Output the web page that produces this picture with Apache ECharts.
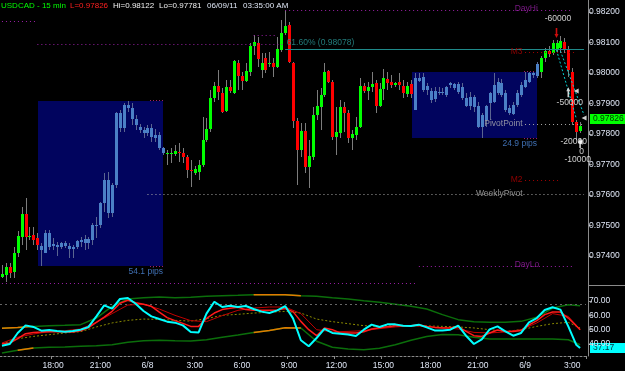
<!DOCTYPE html>
<html><head><meta charset="utf-8">
<script src="https://cdn.jsdelivr.net/npm/echarts@6/dist/echarts.min.js"></script>
<style>html,body{margin:0;padding:0;background:#000;}#c{width:625px;height:371px;}</style>
</head><body><div id="c"></div>
<script>
// ---------------- data ----------------
const tickLabels = ['18:00','21:00','6/8','3:00','6:00','9:00','12:00','15:00','18:00','21:00','6/9','3:00'];
const firstBarMinutes = 14 * 60 + 45;   // 6/7 14:45, 15-minute bars
const firstDay = 7;
const barCount = 148;

const open = [0.97331,0.97337,0.97363,0.97347,0.97409,0.97462,0.97537,0.97462,0.97468,0.97458,
0.97432,0.97409,0.97475,0.97432,0.97435,0.97429,0.97442,0.97432,0.97429,0.97429,
0.97445,0.97455,0.97442,0.97452,0.97501,0.97501,0.97573,0.97649,0.97540,0.97632,
0.97868,0.97819,0.97895,0.97885,0.97849,0.97822,0.97813,0.97803,0.97819,0.97796,
0.97796,0.97754,0.97734,0.97734,0.97734,0.97740,0.97737,0.97724,0.97681,0.97672,
0.97675,0.97698,0.97780,0.97816,0.97918,0.97957,0.97934,0.97875,0.97954,0.97934,
0.98032,0.97990,0.97973,0.98003,0.98088,0.98098,0.98009,0.98049,0.98029,0.98032,
0.98019,0.98075,0.98131,0.98157,0.98032,0.97842,0.97747,0.97809,0.97691,0.97724,
0.97862,0.97888,0.97927,0.98006,0.97970,0.97790,0.97803,0.97888,0.97868,0.97786,
0.97796,0.97822,0.97957,0.97941,0.97954,0.97967,0.97891,0.97947,0.97980,0.97970,
0.97960,0.97970,0.97957,0.97931,0.97963,0.97878,0.97983,0.97986,0.97957,0.97941,
0.97914,0.97937,0.97934,0.97927,0.97960,0.97963,0.97963,0.97954,0.97918,0.97891,
0.97921,0.97891,0.97822,0.97845,0.97901,0.97904,0.97934,0.97967,0.97934,0.97885,
0.97865,0.97895,0.97927,0.97954,0.97970,0.98000,0.97990,0.98003,0.98049,0.98072,
0.98065,0.98075,0.98082,0.98101,0.98075,0.98003,0.97839,0.97809];
const close = [0.97340,0.97363,0.97344,0.97409,0.97465,0.97537,0.97462,0.97465,0.97452,0.97435,
0.97419,0.97475,0.97429,0.97439,0.97429,0.97442,0.97432,0.97422,0.97422,0.97449,
0.97452,0.97442,0.97455,0.97501,0.97498,0.97573,0.97649,0.97540,0.97632,0.97868,
0.97819,0.97895,0.97885,0.97849,0.97829,0.97813,0.97803,0.97819,0.97790,0.97786,
0.97754,0.97737,0.97737,0.97737,0.97744,0.97737,0.97724,0.97681,0.97678,0.97685,
0.97698,0.97780,0.97816,0.97918,0.97957,0.97937,0.97872,0.97954,0.97941,0.98039,
0.97990,0.97973,0.98006,0.98088,0.98101,0.98045,0.98032,0.98009,0.98032,0.98019,
0.98078,0.98131,0.98154,0.98036,0.97842,0.97747,0.97809,0.97691,0.97727,0.97862,
0.97891,0.97927,0.98003,0.97970,0.97790,0.97806,0.97888,0.97868,0.97786,0.97799,
0.97822,0.97957,0.97941,0.97954,0.97963,0.97891,0.97947,0.97983,0.97967,0.97960,
0.97967,0.97960,0.97934,0.97957,0.97931,0.97983,0.97973,0.97944,0.97944,0.97911,
0.97941,0.97934,0.97937,0.97954,0.97967,0.97950,0.97937,0.97918,0.97891,0.97921,
0.97888,0.97822,0.97862,0.97891,0.97934,0.97960,0.97970,0.97927,0.97878,0.97868,
0.97895,0.97934,0.97960,0.97977,0.98000,0.97993,0.98029,0.98049,0.98072,0.98062,
0.98098,0.98098,0.98104,0.98075,0.98009,0.97839,0.97806,0.97826];
const low = [0.97327,0.97314,0.97327,0.97327,0.97396,0.97435,0.97419,0.97452,0.97435,0.97419,
0.97367,0.97409,0.97419,0.97419,0.97399,0.97422,0.97426,0.97393,0.97393,0.97422,
0.97429,0.97419,0.97422,0.97435,0.97458,0.97491,0.97544,0.97524,0.97527,0.97622,
0.97806,0.97806,0.97872,0.97829,0.97813,0.97803,0.97786,0.97793,0.97773,0.97773,
0.97747,0.97731,0.97698,0.97704,0.97727,0.97708,0.97704,0.97655,0.97626,0.97665,
0.97649,0.97691,0.97773,0.97806,0.97904,0.97911,0.97868,0.97872,0.97934,0.97931,
0.97944,0.97944,0.97970,0.97990,0.98059,0.98019,0.97983,0.98000,0.98019,0.97986,
0.98016,0.98068,0.98124,0.98032,0.97819,0.97632,0.97724,0.97672,0.97622,0.97714,
0.97845,0.97813,0.97921,0.97967,0.97780,0.97731,0.97786,0.97806,0.97770,0.97747,
0.97780,0.97819,0.97934,0.97911,0.97937,0.97868,0.97888,0.97911,0.97944,0.97950,
0.97954,0.97944,0.97918,0.97921,0.97918,0.97878,0.97970,0.97937,0.97927,0.97901,
0.97904,0.97927,0.97927,0.97921,0.97950,0.97944,0.97931,0.97911,0.97888,0.97878,
0.97872,0.97819,0.97786,0.97822,0.97845,0.97901,0.97927,0.97921,0.97872,0.97862,
0.97862,0.97888,0.97921,0.97950,0.97967,0.97983,0.97983,0.97983,0.98036,0.98052,
0.98059,0.98065,0.98065,0.98065,0.97986,0.97829,0.97781,0.97803];
const high = [0.97370,0.97376,0.97376,0.97429,0.97481,0.97560,0.97590,0.97494,0.97494,0.97475,
0.97442,0.97485,0.97485,0.97458,0.97445,0.97445,0.97449,0.97442,0.97435,0.97452,
0.97462,0.97468,0.97462,0.97508,0.97527,0.97576,0.97672,0.97675,0.97639,0.97872,
0.97878,0.97901,0.97908,0.97901,0.97862,0.97832,0.97822,0.97829,0.97832,0.97816,
0.97806,0.97757,0.97747,0.97754,0.97763,0.97770,0.97754,0.97731,0.97714,0.97694,
0.97714,0.97855,0.97852,0.97944,0.97970,0.98009,0.97950,0.97977,0.97977,0.98042,
0.98042,0.98003,0.98032,0.98098,0.98124,0.98118,0.98065,0.98065,0.98068,0.98049,
0.98118,0.98173,0.98206,0.98167,0.98036,0.97852,0.97836,0.97836,0.97780,0.97888,
0.97944,0.97950,0.98032,0.98009,0.97977,0.97888,0.97911,0.97904,0.97878,0.97813,
0.97855,0.97983,0.97967,0.97970,0.98003,0.97977,0.97967,0.98013,0.98003,0.97993,
0.97970,0.98000,0.97977,0.97970,0.97977,0.98000,0.98000,0.98000,0.97967,0.97950,
0.97954,0.97954,0.97950,0.97957,0.97970,0.97967,0.97970,0.97967,0.97934,0.97937,
0.97927,0.97904,0.97868,0.97895,0.97937,0.98000,0.97983,0.97980,0.97944,0.97895,
0.97904,0.97944,0.97970,0.98003,0.98003,0.98003,0.98036,0.98055,0.98082,0.98088,
0.98108,0.98108,0.98122,0.98114,0.98088,0.98016,0.97845,0.97839];

// session boxes (first / last bar inside, price top / bottom, label)
const boxFirstBar = [10, 105];
const boxLastBar = [41, 136];
const boxTop = [0.97908, 0.98003];
const boxBottom = [0.97367, 0.97786];
const boxLabel = ['54.1 pips', '24.9 pips'];

// horizontal levels
const levelPrice = [0.98206, 0.98170, 0.98095, 0.98124, 0.98078, 0.98068, 0.97832, 0.97649, 0.97603, 0.97367, 0.97311];
const levelFrom  = [72, 0, 9, 64, 72, 133, 133, 133, 37, 106, 0];
const levelTo    = [145, 9, 72, 70, 148, 146, 148, 142, 148, 145, 105];
const levelKind  = ['day','day','day','day','fib','murrey','pivot','murrey','pivot','day','day'];

// text notes on the price panel
const noteText  = ['DayHi','61.60% (0.98078)','M3','PivotPoint','M2','WeeklyPivot','DayLo','-60000','-50000','-20000','0','-10000'];
const noteBar   = [131, 72, 133, 133, 133, 133, 131, 141, 144, 145, 147, 146];
const notePrice = [0.98206, 0.98078, 0.98068, 0.97832, 0.97649, 0.97603, 0.97367, 0.98177, 0.97901, 0.97773, 0.97740, 0.97714];
const noteKind  = ['day','fib','murrey','pivot','murrey','pivot','day','order','order','order','order','order'];

// trade signals
const signalBar   = [141, 144, 147, 146, 148, 147];
const signalPrice = [0.98131, 0.97937, 0.97770, 0.97941, 0.97852, 0.97773];
const signalKind  = ['sell','buy','buy','flag','flag','flag'];
// dotted trend lines [fromBar, fromPrice, toBar, toPrice]
const trendFromBar = [141, 142];
const trendFromPrice = [0.98075, 0.98072];
const trendToBar = [146, 148];
const trendToPrice = [0.97852, 0.97862];

// oscillator panel (fast lines every 2 bars, slow lines every 4 bars, last value at final bar)
const oscCyan = [38.8,40.0,47.7,53.0,51.9,49.3,49.8,49.1,48.6,49.1,50.0,51.9,59.3,67.0,64.7,71.4,72.1,68.1,63.0,59.3,
57.4,55.6,54.9,53.0,48.4,48.1,61.2,69.5,65.8,66.7,65.8,66.5,64.4,62.6,61.6,63.5,66.5,57.9,42.6,38.4,
44.2,50.5,47.7,47.2,46.7,45.6,50.0,53.5,51.9,53.7,53.7,52.8,52.6,53.5,51.6,49.5,49.5,50.0,52.8,45.8,
40.0,43.3,50.2,52.3,48.8,45.8,47.7,55.1,58.1,63.7,65.6,64.0,52.3,39.5,37.17];
const oscRed = [40.2,40.7,43.7,47.2,48.1,48.4,48.8,48.6,48.4,48.4,49.3,51.4,55.1,58.8,62.8,68.4,70.5,68.8,67.7,66.3,
62.3,58.4,56.3,54.4,52.3,52.3,57.9,61.6,64.0,64.9,65.6,64.0,63.5,63.5,63.5,63.7,64.7,62.6,55.8,50.0,
45.8,51.2,50.0,47.7,47.7,47.7,48.6,50.5,51.4,52.1,52.8,52.8,52.8,53.5,52.3,51.6,51.2,51.4,52.1,48.8,
45.8,45.3,47.7,49.8,48.8,48.8,49.5,53.3,56.3,60.5,62.3,62.3,58.1,52.8,50.0];
const oscDarkRed = [40.7,44.7,47.0,48.6,49.3,50.5,55.1,61.2,67.2,67.7,64.4,60.0,56.3,55.6,59.8,63.5,65.1,65.8,65.8,61.2,
50.0,48.5,48.8,49.3,50.7,51.9,52.8,52.3,51.4,50.5,48.1,47.7,48.4,50.0,54.7,61.2,59.3,50.0];
const oscOlive = [40.2,43.7,45.3,46.5,47.7,48.6,51.9,54.7,56.5,57.4,57.2,56.5,56.0,57.7,60.0,60.7,61.6,62.1,62.8,61.6,
57.4,55.6,54.2,52.8,52.3,52.8,52.8,52.6,52.3,51.9,51.2,50.0,48.8,50.0,52.3,54.2,55.1,51.2];
const oscUpper = [51.0,51.5,52.3,52.8,53.0,53.5,58.1,66.3,71.4,72.3,72.8,72.3,72.6,73.3,73.7,74.0,74.4,74.4,74.4,73.7,
73.3,72.3,71.4,70.2,69.1,67.7,66.3,64.4,60.5,57.0,55.6,55.1,55.1,55.8,58.6,65.1,67.4,66.7];
const oscLower = [33.7,35.6,37.2,37.7,37.9,38.4,38.8,39.5,41.2,42.3,42.6,42.3,42.1,43.0,44.7,46.3,48.1,49.5,51.4,51.2,
41.9,37.7,36.5,36.0,37.0,39.5,42.6,45.3,46.7,46.5,44.7,43.5,43.5,43.5,43.5,43.5,43.0,39.5];
const upperOrangeRanges = [[0, 8], [64, 76]];
const lowerOrangeRanges = [[4, 8], [64, 76]];
const oscLevel = 68;

const priceTicks = [0.982, 0.981, 0.980, 0.979, 0.978, 0.977, 0.976, 0.975, 0.974];
const oscTicks = [70, 60, 50, 40];

// ---------------- build ----------------
const FONT = '"Liberation Sans", Arial, sans-serif';
const lastBar = barCount - 1;
const cats = [];
for (let k = 0; k < barCount + 1; k++) {
  const t = firstBarMinutes + 15 * k;
  const day = firstDay + Math.floor(t / 1440);
  const m = t % 1440;
  const hh = Math.floor(m / 60), mm = m % 60;
  cats.push(m === 0 ? ('6/' + day) : (hh + ':' + (mm < 10 ? '0' : '') + mm));
}
// match the tick labels in order along the bars
const tickBars = {};
(function () {
  let p = 0;
  for (let k = 0; k <= lastBar && p < tickLabels.length; k++) {
    if (cats[k] === tickLabels[p]) { tickBars[k] = true; p++; }
  }
})();
function isTick(idx) { return !!tickBars[idx]; }

const candleData = open.map((o, i) => [i, o, close[i], low[i], high[i]]);
const boxData = boxFirstBar.map((f, k) => [f, boxLastBar[k], boxTop[k], boxBottom[k], k]);

function pairs(vals, step) {
  return vals.map((v, k) => [k < vals.length - 1 ? k * step : lastBar, v]);
}
const cyanP = pairs(oscCyan, 2), redP = pairs(oscRed, 2);
const darkP = pairs(oscDarkRed, 4), oliveP = pairs(oscOlive, 4);
const upP = pairs(oscUpper, 4), loP = pairs(oscLower, 4);

const GREEN = '#00ff00', RED = '#ff0000', WICK = '#7c7c7c';
const BLUE = '#4b80c6', BLUE_WICK = '#5a6590';
const BAND = '#0b6e0b', ORANGE = '#e27a00';

function inBox(i) {
  for (let k = 0; k < boxFirstBar.length; k++) if (i >= boxFirstBar[k] && i <= boxLastBar[k]) return true;
  return false;
}

function renderCandle(params, api) {
  const i = api.value(0), o = api.value(1), c = api.value(2), l = api.value(3), h = api.value(4);
  const pT = api.coord([i, Math.max(o, c)]);
  const pB = api.coord([i, Math.min(o, c)]);
  const pH = api.coord([i, h]);
  const pL = api.coord([i, l]);
  const cx = Math.round(pT[0]);
  const blue = inBox(i);
  const body = blue ? BLUE : (c >= o ? GREEN : RED);
  const wick = blue ? BLUE_WICK : WICK;
  const y1 = Math.round(pT[1]), y2 = Math.round(pB[1]);
  return { type: 'group', children: [
    { type: 'line', shape: { x1: cx + 0.5, y1: Math.round(pH[1]), x2: cx + 0.5, y2: Math.round(pL[1]) }, style: { stroke: wick, lineWidth: 1 } },
    { type: 'rect', shape: { x: cx - 1, y: y1, width: 3, height: Math.max(1, y2 - y1) }, style: { fill: body } }
  ]};
}

function renderBox(params, api) {
  const f = api.value(0), l = api.value(1), t = api.value(2), b = api.value(3), k = api.value(4);
  const p1 = api.coord([f, t]);
  const p2 = api.coord([l, b]);
  const w = api.size([1, 0])[0];
  const x1 = Math.round(p1[0] - w * 0.75), x2 = Math.round(p2[0]);
  const y1 = Math.round(p1[1]), y2 = Math.round(p2[1]);
  return { type: 'group', children: [
    { type: 'rect', shape: { x: x1, y: y1, width: x2 - x1, height: y2 - y1 }, style: { fill: '#01045e' } },
    { type: 'line', shape: { x1: x2 - 13, y1: y1 - 0.5, x2: x2, y2: y1 - 0.5 }, style: { stroke: '#a0206a', lineWidth: 1, lineDash: [1, 2] } },
    { type: 'line', shape: { x1: x2 - 13, y1: y2 + 0.5, x2: x2, y2: y2 + 0.5 }, style: { stroke: '#a0206a', lineWidth: 1, lineDash: [1, 2] } },
    { type: 'text', style: { text: boxLabel[k], x: x2, y: y2 + 1, align: 'right', verticalAlign: 'top', fill: '#3f6fb2', fontSize: 8.5, fontFamily: FONT } }
  ]};
}

const levelStyle = {
  day:    { color: '#9a1fa6', type: [1, 3], width: 1 },
  fib:    { color: '#1f8a8a', type: 'solid', width: 1 },
  murrey: { color: '#a00000', type: [1, 3], width: 1 },
  pivot:  { color: '#a8a8a8', type: [1, 3], width: 1 }
};
const levelLines = levelPrice.map((p, k) => [
  { coord: [levelFrom[k], p], lineStyle: levelStyle[levelKind[k]] },
  { coord: [levelTo[k], p] }
]);
trendFromBar.forEach((b, k) => {
  levelLines.push([
    { coord: [b, trendFromPrice[k]], lineStyle: { color: '#00d0d0', type: [2, 2], width: 1 } },
    { coord: [trendToBar[k], trendToPrice[k]] }
  ]);
});

const noteStyle = {
  day:    { color: '#9a1fa6', align: 'left',   offset: [-2, -1] },
  fib:    { color: '#2a9a9a', align: 'left',   offset: [2, -6] },
  murrey: { color: '#b00000', align: 'right',  offset: [-2, 0] },
  pivot:  { color: '#b4b4b4', align: 'right',  offset: [-2, 0] },
  order:  { color: '#ffffff', align: 'center', offset: [2, 0] }
};
const noteData = noteText.map((t, k) => {
  const s = noteStyle[noteKind[k]];
  return { value: [noteBar[k], notePrice[k]], label: { show: true, formatter: t, color: s.color, align: s.align, verticalAlign: 'middle', position: [0, 0], offset: s.offset, fontSize: 8.5, fontFamily: FONT } };
});

const ARROW = 'path://M1,0 L3,0 L3,6 L4.5,6 L2,10 L-0.5,6 L1,6 Z';
const signalData = signalBar.map((b, k) => {
  const kind = signalKind[k];
  if (kind === 'sell') return { value: [b, signalPrice[k]], symbol: ARROW, symbolSize: [4, 10], itemStyle: { color: '#ff1010' } };
  if (kind === 'buy') return { value: [b, signalPrice[k]], symbol: ARROW, symbolSize: [4, 10], symbolRotate: 180, itemStyle: { color: '#ffffff' } };
  return { value: [b, signalPrice[k]], symbol: 'triangle', symbolSize: 5, symbolRotate: 90, itemStyle: { color: '#ffffff' } };
});

function segmentSeries(points, ranges) {
  return ranges.map(r => ({
    type: 'line', xAxisIndex: 1, yAxisIndex: 1, symbol: 'none', silent: true, z: 4,
    lineStyle: { color: ORANGE, width: 1.5 },
    data: points.filter(p => p[0] >= r[0] && p[0] <= r[1])
  }));
}

const chart = echarts.init(document.getElementById('c'));
const option = {
  backgroundColor: '#000000',
  animation: false,
  textStyle: { fontFamily: FONT },
  grid: [
    { left: -1, top: 0, width: 587, height: 285 },
    { left: -1, top: 285, width: 587, height: 71 }
  ],
  xAxis: [
    { type: 'category', gridIndex: 0, data: cats, boundaryGap: true, show: false },
    { type: 'category', gridIndex: 1, data: cats, boundaryGap: true,
      axisLine: { show: true, lineStyle: { color: '#8a8a8a', type: [2, 2] } },
      axisTick: { show: true, length: 3, interval: isTick, lineStyle: { color: '#8a8a8a' } },
      axisLabel: { interval: isTick, color: '#dfe6f5', fontSize: 8.5, fontFamily: FONT, margin: 5 },
      splitLine: { show: false } }
  ],
  yAxis: [
    { type: 'value', gridIndex: 0, position: 'right', offset: 2, min: 0.97305, max: 0.98239,
      axisLine: { show: true, lineStyle: { color: '#8a8a8a' } },
      axisTick: { show: true, length: 4, customValues: priceTicks, lineStyle: { color: '#8a8a8a' } },
      axisLabel: { customValues: priceTicks, formatter: v => v.toFixed(5), color: '#dfe6f5', fontSize: 8.5, fontFamily: FONT, margin: 1 },
      splitLine: { show: false } },
    { type: 'value', gridIndex: 1, position: 'right', offset: 2, min: 31.63, max: 81.17,
      axisLine: { show: true, lineStyle: { color: '#8a8a8a' } },
      axisTick: { show: true, length: 4, customValues: oscTicks, lineStyle: { color: '#8a8a8a' } },
      axisLabel: { customValues: oscTicks, formatter: v => v.toFixed(2), color: '#dfe6f5', fontSize: 8.5, fontFamily: FONT, margin: 1 },
      splitLine: { show: false } }
  ],
  series: [
    { type: 'custom', name: 'boxes', xAxisIndex: 0, yAxisIndex: 0, renderItem: renderBox, data: boxData,
      encode: { x: [0, 1], y: [2, 3] }, z: 1, silent: true, clip: true },
    { type: 'line', name: 'levels', xAxisIndex: 0, yAxisIndex: 0, data: [], z: 2, silent: true,
      markLine: { silent: true, symbol: ['none', 'none'], label: { show: false }, data: levelLines, animation: false } },
    { type: 'custom', name: 'USDCAD', xAxisIndex: 0, yAxisIndex: 0, renderItem: renderCandle, data: candleData,
      encode: { x: 0, y: [1, 2, 3, 4] }, z: 3, silent: true, clip: true },
    { type: 'scatter', name: 'notes', xAxisIndex: 0, yAxisIndex: 0, data: noteData, symbolSize: 1,
      itemStyle: { color: 'rgba(0,0,0,0)' }, z: 5, silent: true },
    { type: 'scatter', name: 'signals', xAxisIndex: 0, yAxisIndex: 0, data: signalData, z: 6, silent: true },
    // oscillator panel
    { type: 'line', xAxisIndex: 1, yAxisIndex: 1, data: [], silent: true,
      markLine: { silent: true, symbol: ['none', 'none'], label: { show: false },
        lineStyle: { color: '#666666', type: [2, 3], width: 1 }, data: [{ yAxis: oscLevel }] } },
    { type: 'line', xAxisIndex: 1, yAxisIndex: 1, data: upP, symbol: 'none', silent: true, z: 3, lineStyle: { color: BAND, width: 1.5 } },
    { type: 'line', xAxisIndex: 1, yAxisIndex: 1, data: loP, symbol: 'none', silent: true, z: 3, lineStyle: { color: BAND, width: 1.5 } },
    ...segmentSeries(upP, upperOrangeRanges),
    ...segmentSeries(loP, lowerOrangeRanges),
    { type: 'line', xAxisIndex: 1, yAxisIndex: 1, data: oliveP, symbol: 'none', silent: true, z: 4, lineStyle: { color: '#8a8a00', width: 1, type: [2, 2] } },
    { type: 'line', xAxisIndex: 1, yAxisIndex: 1, data: darkP, symbol: 'none', silent: true, z: 5, lineStyle: { color: '#c00000', width: 1 } },
    { type: 'line', xAxisIndex: 1, yAxisIndex: 1, data: redP, symbol: 'none', silent: true, z: 6, lineStyle: { color: '#ff1a1a', width: 1.5 } },
    { type: 'line', xAxisIndex: 1, yAxisIndex: 1, data: cyanP, symbol: 'none', silent: true, z: 7, lineStyle: { color: '#00ffff', width: 2 } }
  ]
};
chart.setOption(option);

// header texts and last-value tags
const headTexts = ['USDCAD - 15 min', 'L=0.97826', 'Hi=0.98122', 'Lo=0.97781', '06/09/11', '03:35:00 AM'];
const headX = [1, 70, 113, 159, 207, 243];
const headColor = ['#00ff00', '#ff2020', '#f0f0f0', '#f0f0f0', '#dfe6f5', '#dfe6f5'];
const lastClose = close[close.length - 1];
const lastOsc = oscCyan[oscCyan.length - 1];
const yClose = chart.convertToPixel({ yAxisIndex: 0 }, lastClose);
const yOsc = chart.convertToPixel({ yAxisIndex: 1 }, lastOsc);
const graphics = headTexts.map((t, k) => ({
  type: 'text', x: headX[k], y: 6, silent: true,
  style: { text: t, fill: headColor[k], fontSize: 8, fontFamily: FONT, verticalAlign: 'middle' }
}));
graphics.push({ type: 'line', silent: true, shape: { x1: 588, y1: 285.5, x2: 625, y2: 285.5 }, style: { stroke: '#8a8a8a', lineWidth: 1 } });
graphics.push({ type: 'rect', silent: true, shape: { x: 590, y: Math.round(yClose) - 12, width: 35, height: 10 }, style: { fill: '#00ff00' } });
graphics.push({ type: 'text', silent: true, x: 593, y: Math.round(yClose) - 7, style: { text: lastClose.toFixed(5), fill: '#003000', fontSize: 8.5, fontFamily: FONT, verticalAlign: 'middle' } });
graphics.push({ type: 'rect', silent: true, shape: { x: 590, y: Math.round(yOsc) - 5, width: 35, height: 10 }, style: { fill: '#00ffff' } });
graphics.push({ type: 'text', silent: true, x: 593, y: Math.round(yOsc), style: { text: lastOsc.toFixed(2), fill: '#003040', fontSize: 8.5, fontFamily: FONT, verticalAlign: 'middle' } });
chart.setOption({ graphic: graphics });
</script>
</body></html>
